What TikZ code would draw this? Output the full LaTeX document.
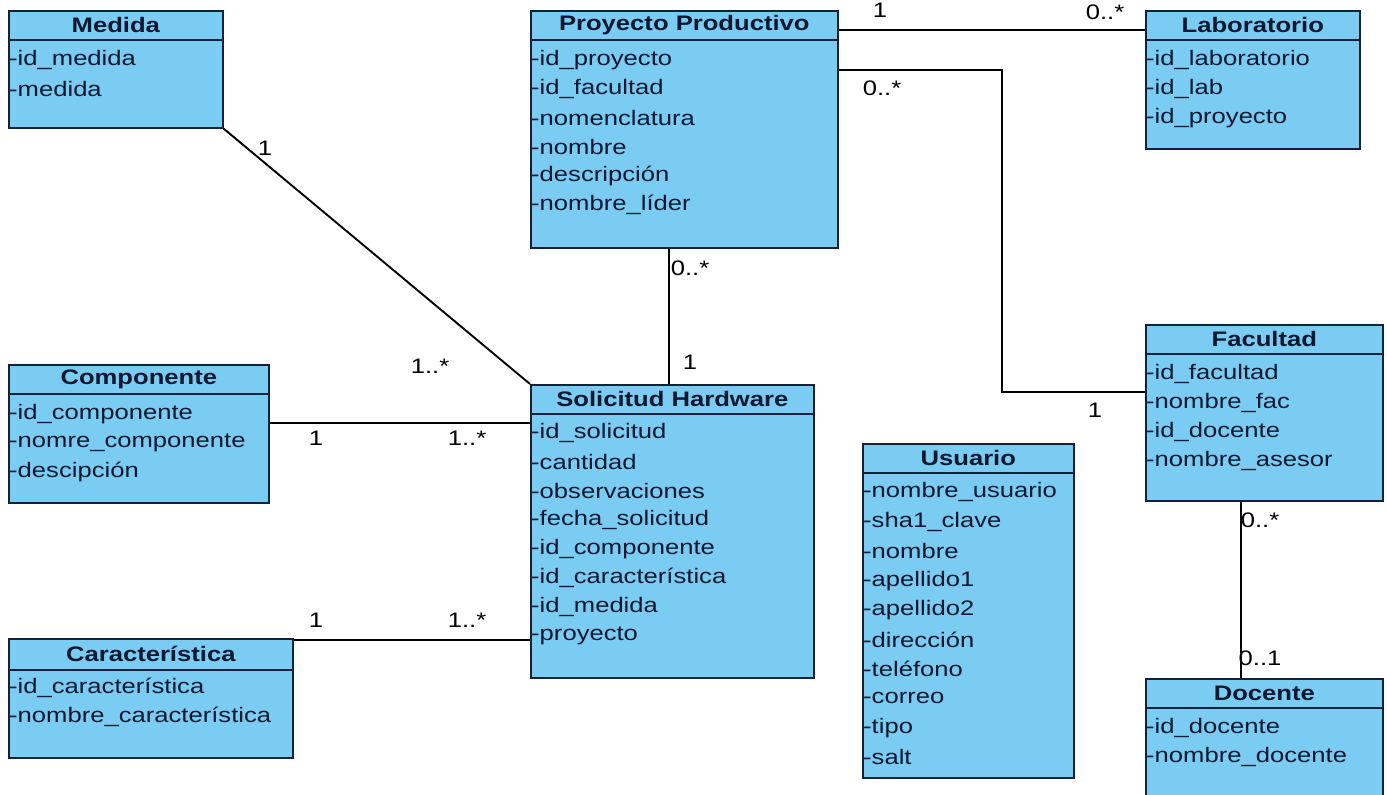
\documentclass[tikz,border=0pt]{standalone}
\usepackage{fontspec}
\setmainfont{Liberation Sans}[FakeStretch=1.22]
\usetikzlibrary{positioning, calc}
\definecolor{boxfill}{HTML}{7ACCF2}
\definecolor{boxline}{HTML}{14213A}
\definecolor{inkdark}{HTML}{0B1830}

\begin{document}
\begin{tikzpicture}[x=1pt, y=-1pt, font=\fontsize{21}{25}\selectfont,
    box/.style={draw=boxline, fill=boxfill, line width=1.6pt,
                anchor=north west, inner sep=0pt},
    hdr/.style={draw=boxline, line width=1.6pt},
    title/.style={font=\fontsize{21}{25}\selectfont\bfseries, text=inkdark, inner sep=0pt},
    attr/.style={anchor=west, text=inkdark, inner sep=1pt},
    mult/.style={text=black, inner sep=0pt},
    link/.style={draw=black, line width=1.9pt}]
  \useasboundingbox[fill=white] (0,0) rectangle (1387,795);

  % Medida
  \node[box, minimum width=214pt, minimum height=117pt] (medida) at (8,10) {};
  \node[title] (medida-t) at ($(medida.north)+(0,15)$) {Medida};
  \draw[hdr] ($(medida.north west)+(0,30)$) -- ($(medida.north east)+(0,30)$);
  \foreach \a [count=\i] in {-id\_medida, -medida}{%
    \node[attr] (medida-\i) at ($(medida.north west)+(0,21+29*\i)$) {\a};}

  % Proyecto Productivo
  \node[box, minimum width=307pt, minimum height=237pt] (proyecto) at (530,10) {};
  \node[title] (proyecto-t) at ($(proyecto.north)+(0,15)$) {Proyecto Productivo};
  \draw[hdr] ($(proyecto.north west)+(0,30)$) -- ($(proyecto.north east)+(0,30)$);
  \foreach \a [count=\i] in {-id\_proyecto, -id\_facultad, -nomenclatura,
                             -nombre, -descripción, -nombre\_líder}{%
    \node[attr] (proyecto-\i) at ($(proyecto.north west)+(0,21+29*\i)$) {\a};}

  % Laboratorio
  \node[box, minimum width=214pt, minimum height=138pt] (laboratorio) at (1145,10) {};
  \node[title] (laboratorio-t) at ($(laboratorio.north)+(0,15)$) {Laboratorio};
  \draw[hdr] ($(laboratorio.north west)+(0,30)$) -- ($(laboratorio.north east)+(0,30)$);
  \foreach \a [count=\i] in {-id\_laboratorio, -id\_lab, -id\_proyecto}{%
    \node[attr] (laboratorio-\i) at ($(laboratorio.north west)+(0,21+29*\i)$) {\a};}

  % Componente
  \node[box, minimum width=260pt, minimum height=138pt] (componente) at (8,364) {};
  \node[title] (componente-t) at ($(componente.north)+(0,15)$) {Componente};
  \draw[hdr] ($(componente.north west)+(0,30)$) -- ($(componente.north east)+(0,30)$);
  \foreach \a [count=\i] in {-id\_componente, -nomre\_componente, -descipción}{%
    \node[attr] (componente-\i) at ($(componente.north west)+(0,21+29*\i)$) {\a};}

  % Solicitud Hardware
  \node[box, minimum width=283pt, minimum height=293pt] (solicitud) at (530,384) {};
  \node[title] (solicitud-t) at ($(solicitud.north)+(0,15)$) {Solicitud Hardware};
  \draw[hdr] ($(solicitud.north west)+(0,30)$) -- ($(solicitud.north east)+(0,30)$);
  \foreach \a [count=\i] in {-id\_solicitud, -cantidad, -observaciones,
                             -fecha\_solicitud, -id\_componente, -id\_característica,
                             -id\_medida, -proyecto}{%
    \node[attr] (solicitud-\i) at ($(solicitud.north west)+(0,20+29*\i)$) {\a};}

  % Usuario
  \node[box, minimum width=211pt, minimum height=334pt] (usuario) at (862,443) {};
  \node[title] (usuario-t) at ($(usuario.north)+(0,15)$) {Usuario};
  \draw[hdr] ($(usuario.north west)+(0,30)$) -- ($(usuario.north east)+(0,30)$);
  \foreach \a [count=\i] in {-nombre\_usuario, -sha1\_clave, -nombre, -apellido1,
                             -apellido2, -dirección, -teléfono, -correo, -tipo, -salt}{%
    \node[attr] (usuario-\i) at ($(usuario.north west)+(0,20+29.4*\i)$) {\a};}

  % Facultad
  \node[box, minimum width=237pt, minimum height=176pt] (facultad) at (1145,324) {};
  \node[title] (facultad-t) at ($(facultad.north)+(0,15)$) {Facultad};
  \draw[hdr] ($(facultad.north west)+(0,30)$) -- ($(facultad.north east)+(0,30)$);
  \foreach \a [count=\i] in {-id\_facultad, -nombre\_fac, -id\_docente, -nombre\_asesor}{%
    \node[attr] (facultad-\i) at ($(facultad.north west)+(0,21+29*\i)$) {\a};}

  % Docente (runs past the bottom edge)
  \node[box, minimum width=237pt, minimum height=135pt] (docente) at (1145,678) {};
  \node[title] (docente-t) at ($(docente.north)+(0,15)$) {Docente};
  \draw[hdr] ($(docente.north west)+(0,30)$) -- ($(docente.north east)+(0,30)$);
  \foreach \a [count=\i] in {-id\_docente, -nombre\_docente}{%
    \node[attr] (docente-\i) at ($(docente.north west)+(0,21+29*\i)$) {\a};}

  % Caracteristica
  \node[box, minimum width=284pt, minimum height=119pt] (caracteristica) at (8,638) {};
  \node[title] (caracteristica-t) at ($(caracteristica.north)+(0,16)$) {Característica};
  \draw[hdr] ($(caracteristica.north west)+(0,32)$) -- ($(caracteristica.north east)+(0,32)$);
  \foreach \a [count=\i] in {-id\_característica, -nombre\_característica}{%
    \node[attr] (caracteristica-\i) at ($(caracteristica.north west)+(0,21+29*\i)$) {\a};}

  % associations
  \draw[link] (medida.south east) -- (solicitud.north west);
  \draw[link] ($(componente.east)+(0,-11)$) coordinate (c1) -- (c1 -| solicitud.west);
  \draw[link] ($(caracteristica.north east)+(0,2)$) coordinate (k1) -- (k1 -| solicitud.west);
  \draw[link] ($(solicitud.north)+(-3,0)$) coordinate (s1) -- (s1 |- proyecto.south);
  \draw[link] ($(proyecto.north east)+(0,20)$) coordinate (p1) -- (p1 -| laboratorio.west);
  \coordinate (f1) at ($(facultad.west)+(0,-21)$);
  \draw[link] ($(proyecto.north east)+(0,60)$) -- ++(163,0) |- (f1);
  \draw[link] ($(docente.north)+(-23,0)$) coordinate (d1) -- (d1 |- facultad.south);

  % multiplicities
  \node[mult] (m1)  at (265,148) {1};
  \node[mult] (m2)  at (430,366) {1..*};
  \node[mult] (m3)  at (316,438) {1};
  \node[mult] (m4)  at (467,438) {1..*};
  \node[mult] (m5)  at (316,620) {1};
  \node[mult] (m6)  at (467,620) {1..*};
  \node[mult] (m7)  at (690,268) {0..*};
  \node[mult] (m8)  at (690,362) {1};
  \node[mult] (m9)  at (880,10)  {1};
  \node[mult] (m10) at (1105,12) {0..*};
  \node[mult] (m11) at (882,88)  {0..*};
  \node[mult] (m12) at (1095,410) {1};
  \node[mult] (m13) at (1260,520) {0..*};
  \node[mult] (m14) at (1260,658) {0..1};
\end{tikzpicture}
\end{document}
